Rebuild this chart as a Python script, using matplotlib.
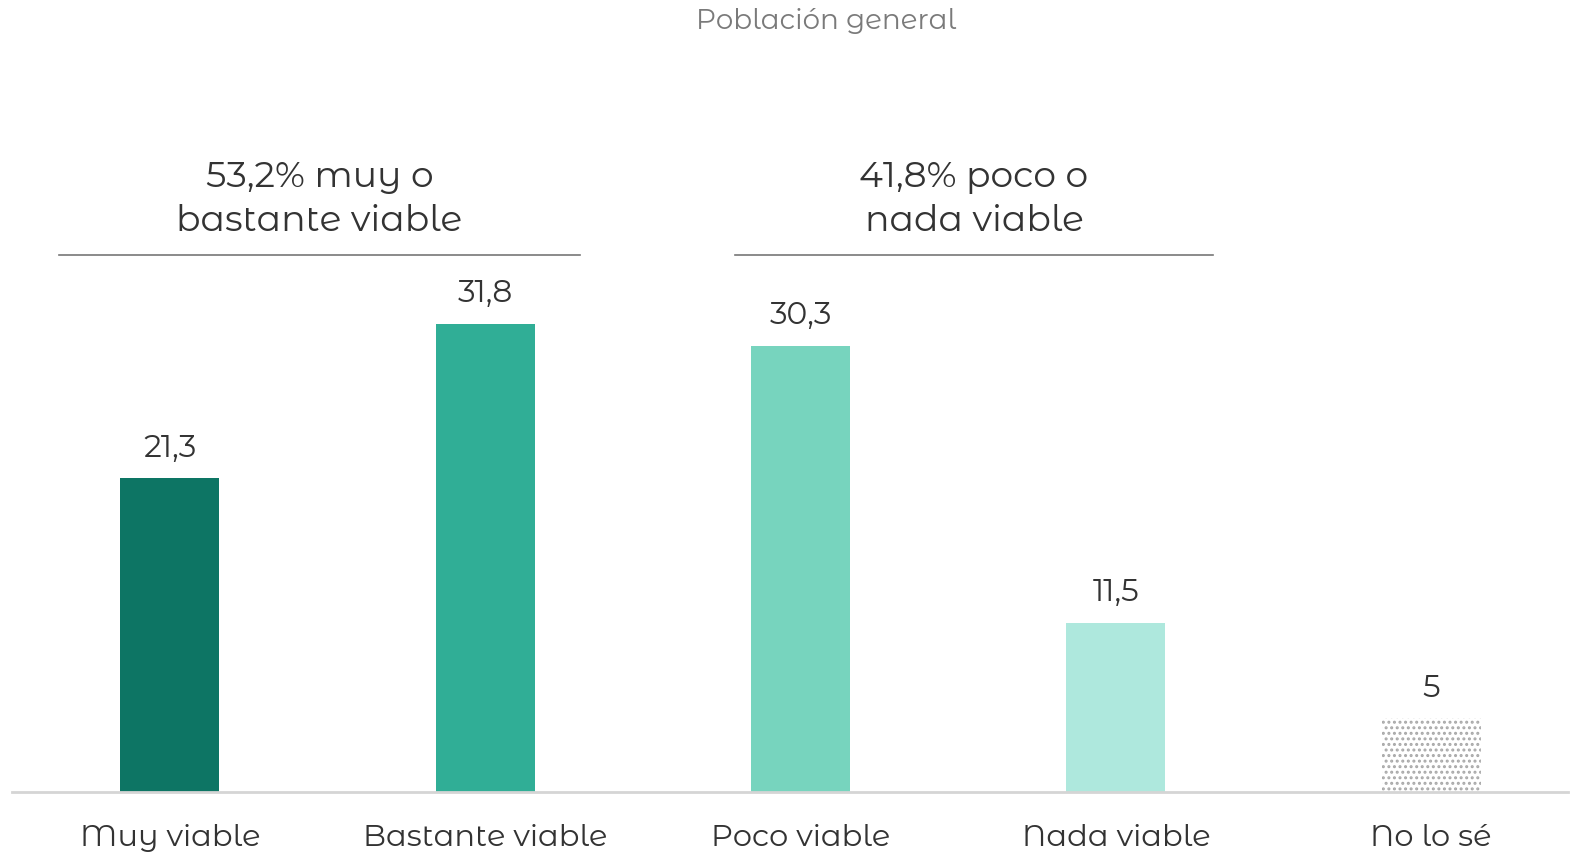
import matplotlib.pyplot as plt
import matplotlib as mpl

plt.rcParams['font.family'] = ['Montserrat Alternates', 'Lato', 'DejaVu Sans']
mpl.rcParams['hatch.linewidth'] = 1.4

categories = ['Muy viable', 'Bastante viable', 'Poco viable', 'Nada viable', 'No lo sé']
values = [21.3, 31.8, 30.3, 11.5, 5]
labels = ['21,3', '31,8', '30,3', '11,5', '5']
colors = ['#0d7564', '#30ae96', '#77d4be', '#aee8dd', 'none']
groups = ['53,2% muy o\nbastante viable', '41,8% poco o\nnada viable']

# horizontal extent of the bracket lines (in bar-position units)
group_lines = [(-0.352, 1.300), (1.792, 3.308)]

TXT = '#333333'

fig = plt.figure(figsize=(15.7, 8.54), dpi=100)
ax = fig.add_axes([12 / 1570, 61 / 854, 1556 / 1570, 736 / 854])

x = list(range(len(categories)))
bars = ax.bar(x, values, width=0.314, color=colors, edgecolor='none', zorder=2)
# last bar: dotted pattern, no fill
bars[-1].set_hatch('...')
bars[-1].set_edgecolor('#a8a8a8')
bars[-1].set_linewidth(0)

for xi, v, lab in zip(x, values, labels):
    ax.annotate(lab, (xi, v), xytext=(0, 12), textcoords='offset points',
                ha='center', va='bottom', fontsize=22.5, color=TXT)

ax.set_xlim(-0.501, 4.434)
ax.set_ylim(0, 50)

for txt, (a, b) in zip(groups, group_lines):
    ax.plot([a, b], [36.5, 36.5], color='#777777', lw=1.2, clip_on=False)
    ax.text((a + b) / 2, 37.7, txt, ha='center', va='bottom', fontsize=26,
            color=TXT, linespacing=1.38)

ax.set_xticks(x)
ax.set_xticklabels(categories, fontsize=22, color=TXT)
ax.tick_params(axis='x', length=0, pad=22)
ax.set_yticks([])
for s in ['top', 'right', 'left']:
    ax.spines[s].set_visible(False)
ax.spines['bottom'].set_color('#d5d5d5')
ax.spines['bottom'].set_linewidth(2)

fig.text(826 / 1570, 1 - 21 / 854, 'Población general', ha='center', va='center',
         fontsize=20, color='#7a7a7a')

fig.savefig('out.png', dpi=100, facecolor='white')
